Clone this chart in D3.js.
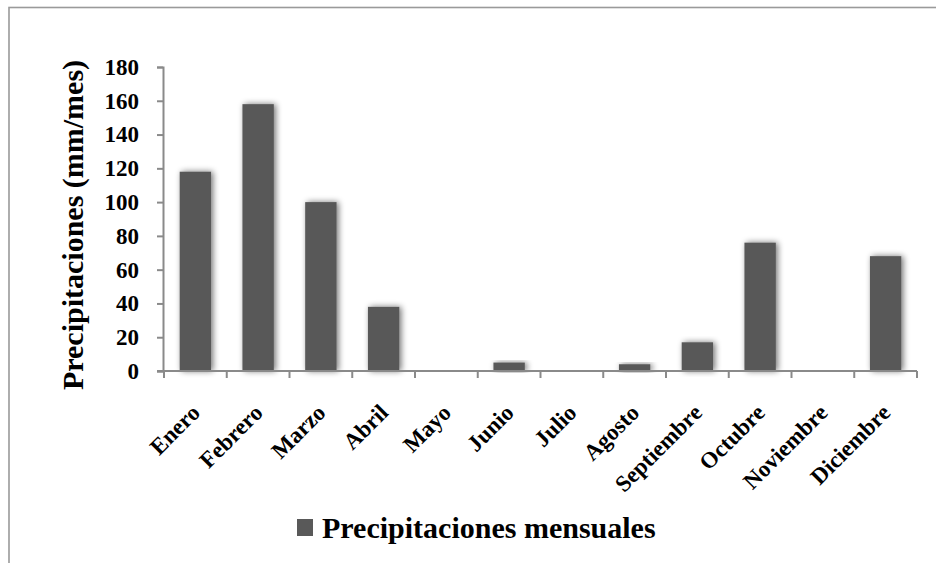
<!DOCTYPE html>
<html>
<head>
<meta charset="utf-8">
<script src="https://cdn.jsdelivr.net/npm/d3@7"></script>
<style>
  html, body { margin: 0; padding: 0; background: #fff; }
  svg { display: block; font-family: "Liberation Serif", "Times New Roman", serif; }
</style>
</head>
<body>
<svg id="chart" width="936" height="563"></svg>
<script>
// Monthly precipitation (mm/month)
const months = ["Enero", "Febrero", "Marzo", "Abril", "Mayo", "Junio", "Julio",
                "Agosto", "Septiembre", "Octubre", "Noviembre", "Diciembre"];
const precipitation = [118, 158, 100, 38, 0, 5, 0, 4, 17, 76, 0, 68];
const yTicks = [0, 20, 40, 60, 80, 100, 120, 140, 160, 180];
const seriesName = "Precipitaciones mensuales";
const yTitle = "Precipitaciones (mm/mes)";

const svg = d3.select("#chart");

// Frame around the chart area
svg.append("rect")
  .attr("x", 9).attr("y", 7.5)
  .attr("width", 1200).attr("height", 1200)
  .attr("fill", "none")
  .attr("stroke", "#9a9a9a")
  .attr("stroke-width", 1.6);

// Soft shadow under the bars
const defs = svg.append("defs");
const f = defs.append("filter").attr("id", "shadow")
  .attr("x", "-50%").attr("y", "-20%").attr("width", "200%").attr("height", "140%");
f.append("feGaussianBlur").attr("in", "SourceAlpha").attr("stdDeviation", 3).attr("result", "blur");
f.append("feOffset").attr("in", "blur").attr("dx", 2).attr("dy", 0).attr("result", "off");
f.append("feComponentTransfer").attr("in", "off").attr("result", "shade")
  .append("feFuncA").attr("type", "linear").attr("slope", 0.55);
const merge = f.append("feMerge");
merge.append("feMergeNode").attr("in", "shade");
merge.append("feMergeNode").attr("in", "SourceGraphic");

const x = d3.scaleBand()
  .domain(months)
  .range([164, 917])
  .paddingInner(0.5)
  .paddingOuter(0.25);

const y = d3.scaleLinear()
  .domain([0, 180])
  .range([371, 67]);

const axisColor = "#8a8a8a";

// Bars
svg.append("g")
  .selectAll("rect")
  .data(months)
  .join("rect")
  .attr("x", d => x(d))
  .attr("y", (d, i) => y(precipitation[i]))
  .attr("width", x.bandwidth())
  .attr("height", (d, i) => y(0) - y(precipitation[i]))
  .attr("fill", "#595959")
  .attr("filter", "url(#shadow)");

// Y axis
const yAxis = svg.append("g")
  .attr("transform", "translate(163,0)")
  .call(d3.axisLeft(y).tickValues(yTicks).tickSize(6).tickPadding(18));
yAxis.select(".domain").attr("stroke", axisColor).attr("stroke-width", 2);
yAxis.selectAll(".tick line").attr("stroke", axisColor).attr("stroke-width", 2);
yAxis.selectAll(".tick text")
  .attr("fill", "#000")
  .style("font-family", "'Liberation Serif', 'Times New Roman', serif")
  .style("font-weight", "bold")
  .style("font-size", "23px");

// X axis: line with ticks at category boundaries
const xAxis = svg.append("g").attr("transform", `translate(0,${y(0)})`);
const step = x.step();
const x0 = x.range()[0];
xAxis.append("line")
  .attr("x1", 157).attr("x2", x.range()[1])
  .attr("stroke", axisColor).attr("stroke-width", 2);
xAxis.selectAll("line.bt")
  .data(d3.range(months.length + 1))
  .join("line")
  .attr("class", "bt")
  .attr("x1", i => x0 + i * step).attr("x2", i => x0 + i * step)
  .attr("y1", 0).attr("y2", 7)
  .attr("stroke", axisColor).attr("stroke-width", 2);

// Category labels, rotated
const labelAxis = svg.append("g")
  .attr("transform", `translate(0,${y(0)})`)
  .call(d3.axisBottom(x).tickSize(0).tickPadding(0));
labelAxis.select(".domain").remove();
labelAxis.selectAll(".tick text")
  .attr("fill", "#000")
  .attr("text-anchor", "end")
  .attr("x", 0).attr("y", 0).attr("dy", 0)
  .attr("transform", "translate(6,43) rotate(-45)")
  .style("font-family", "'Liberation Serif', 'Times New Roman', serif")
  .style("font-weight", "bold")
  .style("font-size", "23px");

// Y axis title
svg.append("text")
  .attr("transform", "translate(83,225) rotate(-90)")
  .attr("text-anchor", "middle")
  .attr("font-weight", "bold")
  .attr("font-size", "30px")
  .attr("fill", "#000")
  .text(yTitle);

// Legend
const legend = svg.append("g");
legend.append("rect")
  .attr("x", 297).attr("y", 519)
  .attr("width", 16).attr("height", 17)
  .attr("fill", "#595959");
legend.append("text")
  .attr("x", 322).attr("y", 538)
  .attr("font-weight", "bold")
  .attr("font-size", "30px")
  .attr("fill", "#000")
  .text(seriesName);
</script>
</body>
</html>
